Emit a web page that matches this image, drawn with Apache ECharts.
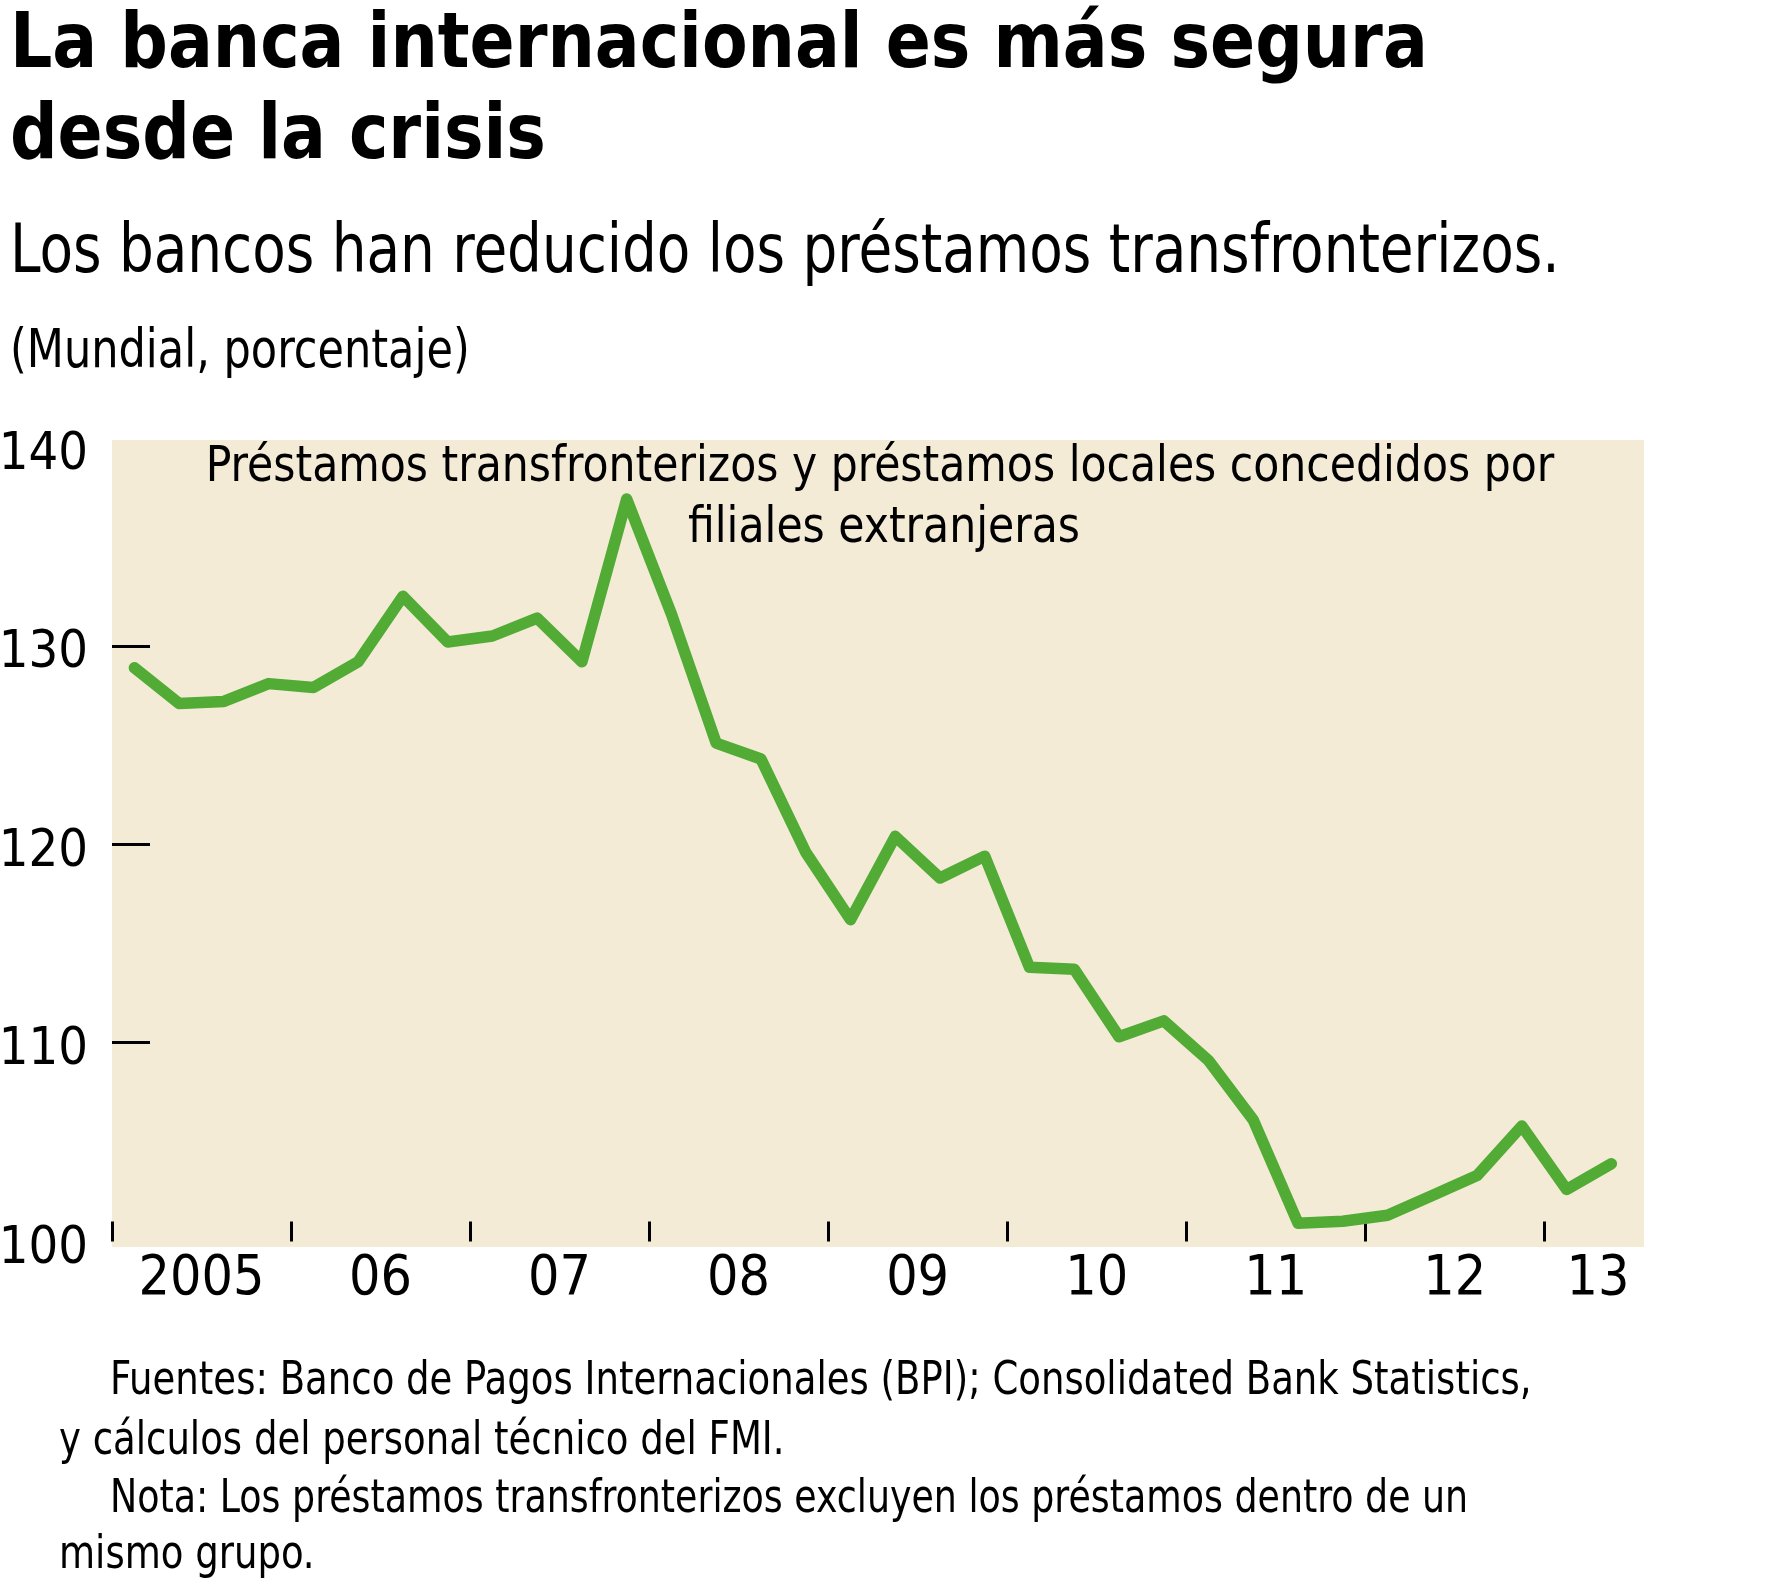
<!DOCTYPE html>
<html>
<head>
<meta charset="utf-8">
<title>La banca internacional es más segura desde la crisis</title>
<script src="https://cdn.jsdelivr.net/npm/echarts@6.0.0/dist/echarts.min.js"></script>
<style>
  html, body { margin: 0; padding: 0; background: #fff; }
  #chart { width: 1773px; height: 1582px; }
</style>
</head>
<body>
<div id="chart"></div>
<script>
// datos trimestrales, 2005T1 .. 2013T2 (indice 0 = 2005T1)
var prestamos = [
  128.9, 127.1, 127.2, 128.1,   // 2005
  127.9, 129.2, 132.5, 130.2,   // 2006
  130.5, 131.4, 129.2, 137.4,   // 2007
  131.6, 125.1, 124.3, 119.6,   // 2008
  116.2, 120.4, 118.3, 119.4,   // 2009
  113.8, 113.7, 110.3, 111.1,   // 2010
  109.1, 106.1, 100.9, 101.0,   // 2011
  101.3, 102.3, 103.3, 105.8,   // 2012
  102.6, 103.9                  // 2013
];
var anios = ["2005", "06", "07", "08", "09", "10", "11", "12", "13"];
var ticksAnio = [0, 4, 8, 12, 16, 20, 24, 28, 32];      // inicio de cada año (trimestres)
var posEtiquetaAnio = [2, 6, 10, 14, 18, 22, 26, 30, 33.2];
var etiquetasY = [100, 110, 120, 130, 140];
var ticksY = [110, 120, 130];

var FONT = "'Liberation Sans Narrow', 'DejaVu Sans Condensed', 'Arial Narrow', sans-serif";

var chart = echarts.init(document.getElementById("chart"));

var puntos = prestamos.map(function (v, i) {
  return [i + 0.5, v];
});

// texto con la linea base aproximada (verticalAlign middle); sx = estrechado horizontal
function texto(t, x, base, size, weight, align, sx) {
  return {
    type: "text",
    x: x,
    y: base - size * 0.3465,
    scaleX: sx || 1,
    style: {
      text: t,
      fill: "#000",
      font: (weight || "normal") + " " + size + "px " + FONT,
      textAlign: align || "left",
      textVerticalAlign: "middle"
    },
    z: 10
  };
}

chart.setOption({
  backgroundColor: "#fff",
  animation: false,
  grid: {
    left: 112,
    top: 440,
    width: 1532,
    height: 807,
    containLabel: false,
    outerBoundsMode: "none",
    show: true,
    borderWidth: 0,
    backgroundColor: "#f4ebd7"
  },
  xAxis: {
    type: "value",
    min: 0,
    max: 34.23,
    offset: -5.5,
    axisLine: { show: false },
    splitLine: { show: false },
    axisTick: {
      show: true,
      inside: true,
      length: 20,
      customValues: ticksAnio,
      lineStyle: { color: "#000", width: 3 }
    },
    axisLabel: {
      show: true,
      margin: 11,
      fontSize: 55,
      fontFamily: FONT,
      color: "#000",
      customValues: posEtiquetaAnio,
      formatter: function (v) {
        return anios[Math.floor(v / 4)];
      }
    }
  },
  yAxis: {
    type: "value",
    min: 99.7,
    max: 140.38,
    axisLine: { show: false },
    splitLine: { show: false },
    axisTick: {
      show: true,
      inside: true,
      length: 38,
      customValues: ticksY,
      lineStyle: { color: "#000", width: 3 }
    },
    axisLabel: {
      show: true,
      margin: 24,
      fontSize: 52,
      fontFamily: FONT,
      color: "#000",
      verticalAlign: "top",
      lineHeight: 16,
      customValues: etiquetasY
    }
  },
  series: [
    {
      name: "Préstamos transfronterizos y préstamos locales",
      type: "line",
      data: puntos,
      showSymbol: false,
      symbol: "none",
      lineStyle: {
        color: "#51ab35",
        width: 11.5,
        cap: "round",
        join: "round"
      },
      z: 5
    }
  ],
  graphic: [
    texto("La banca internacional es más segura", 10, 74, 77, "bold", "left", 0.96),
    texto("desde la crisis", 10, 165, 77, "bold", "left", 0.96),
    texto("Los bancos han reducido los préstamos transfronterizos.", 10, 278, 68, "normal", "left", 0.896),
    texto("(Mundial, porcentaje)", 10, 372, 54, "normal", "left", 0.886),
    texto("Préstamos transfronterizos y préstamos locales concedidos por", 880, 485.5, 50, "normal", "center", 0.947),
    texto("filiales extranjeras", 884, 546.7, 50, "normal", "center", 0.947),
    texto("Fuentes: Banco de Pagos Internacionales (BPI); Consolidated Bank Statistics,", 110, 1398, 47, "normal", "left", 0.876),
    texto("y cálculos del personal técnico del FMI.", 59, 1458, 47, "normal", "left", 0.876),
    texto("Nota: Los préstamos transfronterizos excluyen los préstamos dentro de un", 110, 1516, 47, "normal", "left", 0.86),
    texto("mismo grupo.", 59, 1572, 47, "normal", "left", 0.876)
  ]
});
</script>
</body>
</html>
